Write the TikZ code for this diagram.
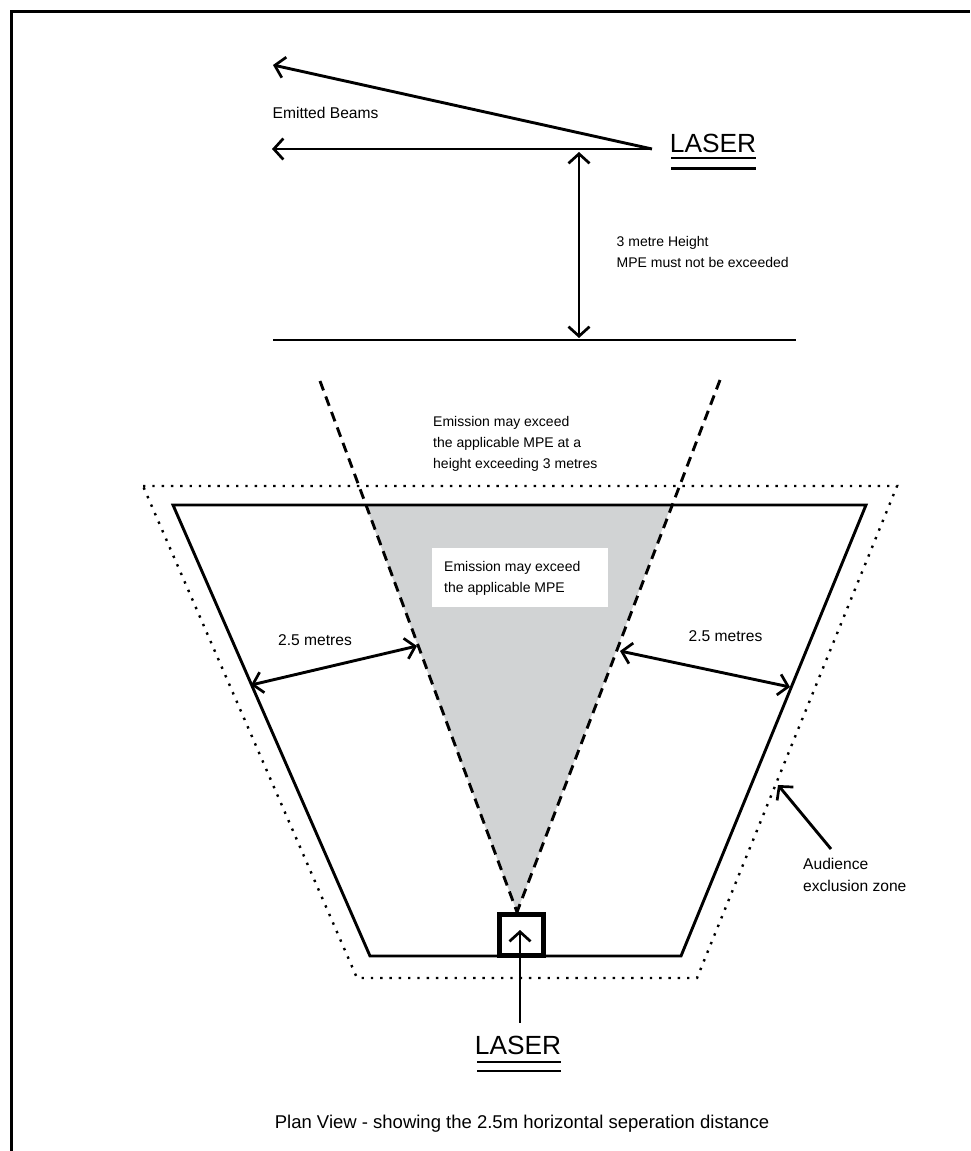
\documentclass[tikz,border=0pt]{standalone}
\usepackage{fontspec}
\setmainfont{Liberation Sans}
\usetikzlibrary{arrows.meta}
\definecolor{wedgegray}{RGB}{209,211,212}
\tikzset{
 x=1pt,y=-1pt,
 solid line/.style={line width=2.9pt,line cap=butt},
 opn/.style={{Straight Barb[length=9.5pt,width=21pt,line width=2.7pt]}-},
 both/.style={{Straight Barb[length=9.5pt,width=21pt,line width=2.7pt]}-{Straight Barb[length=9.5pt,width=21pt,line width=2.7pt]}},
 dashline/.style={line width=2.9pt,dash pattern=on 10pt off 6.5pt},
 dotline/.style={line width=2.4pt,dash pattern=on 2.4pt off 6.9pt},
 lbl/.style={inner sep=0pt,anchor=west,font=\fontsize{14}{21}\selectfont,align=left},
 lblb/.style={lbl,font=\fontsize{15.6}{22}\selectfont},
 big/.style={inner sep=0pt,font=\fontsize{26.3}{30}\selectfont},
}
\begin{document}
\begin{tikzpicture}
\useasboundingbox (0,0) rectangle (970,1151);
\fill[white] (0,0) rectangle (970,1151);
\draw[line width=3pt] (11,1151) -- (11,11) -- (970,11);
% wedge
\coordinate (apex) at (517,912);
\coordinate (wl) at (365.5,505);
\coordinate (wr) at (671.5,505);
\fill[wedgegray] (apex) -- (wl) -- (wr) -- cycle;
% zones
\draw[solid line,line join=miter] (173,505) -- (866,505) -- (681,956) -- (370,956) -- cycle;
\draw[dotline] (143,486) -- (897,486) -- (697,978) -- (357,978) -- cycle;
% dashed lines
\coordinate (dl) at (320,381);
\coordinate (dr) at (720,380);
\draw[dashline] (dl) -- (apex);
\draw[dashline] (dr) -- (apex);
% laser box
\node[draw,line width=5pt,minimum width=44pt,minimum height=41pt,inner sep=0pt] (box) at (521.5,935) {};
% top part
\node[big] (laser1) at (713,143.5) {LASER};
\node[big] (laser2) at (518,1045) {LASER};
\coordinate (src) at (652,149);
\coordinate (b1) at (273,65);
\coordinate (b2) at (272,149);
\draw[solid line,opn] (b1) -- (src);
\draw[solid line,opn] (b2) -- (src);
\coordinate (g1) at (273,340);
\coordinate (g2) at (796,340);
\draw[solid line] (g1) -- (g2);
\coordinate (h1) at (579,152);
\coordinate (h2) at (579,338);
\draw[solid line,both] (h1) -- (h2);
% laser underlines
\draw[line width=2.7pt] (671,158) -- +(84.5,0) (671,168.5) -- +(84.5,0);
\draw[line width=2.7pt] (477,1062) -- +(84,0) (477,1071) -- +(84,0);
% laser pointer
\coordinate (lp) at (520,1023);
\coordinate (lq) at (520,930);
\draw[solid line,opn] (lq) -- (lp);
% 2.5 m
\coordinate (a1) at (251,685);
\coordinate (a2) at (417,646);
\draw[solid line,both] (a1) -- (a2);
\coordinate (a3) at (620,651);
\coordinate (a4) at (790,687);
\draw[solid line,both] (a3) -- (a4);
% exclusion
\coordinate (e1) at (778,785);
\coordinate (e2) at (831,849);
\draw[solid line,opn] (e1) -- (e2);
% texts
\node[lblb] (t1) at (272.5,112.5) {Emitted Beams};
\node[lbl] (t2) at (616.5,251.5) {3 metre Height\\MPE must not be exceeded};
\node[lbl] (t3) at (433,444) {Emission may exceed\\the applicable MPE at a\\height exceeding 3 metres};
\node[fill=white,minimum width=176pt,minimum height=59pt,inner sep=0pt] (wb) at (520,577.5) {};
\node[lbl] (t4) at (444,578) {Emission may exceed\\the applicable MPE};
\node[lblb] (t5) at (278,640.5) {2.5 metres};
\node[lblb] (t6) at (688.5,636.5) {2.5 metres};
\node[lblb] (t7) at (803,874.5) {Audience\\exclusion zone};
\node[lbl,anchor=center,font=\fontsize{18.5}{22}\selectfont] (t8) at (522,1123.5) {Plan View - showing the 2.5m horizontal seperation distance};
\end{tikzpicture}
\end{document}
